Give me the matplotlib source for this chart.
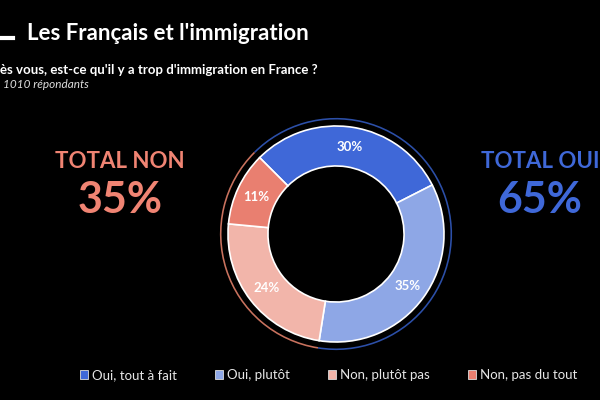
import matplotlib.pyplot as plt
from matplotlib.patches import Patch

# data
categories = ['Oui, tout à fait', 'Oui, plutôt', 'Non, plutôt pas', 'Non, pas du tout']
values = [30, 35, 24, 11]
colors = ['#3f68d8', '#8ea7e6', '#f2b5aa', '#e97f70']
total_labels = ['TOTAL NON', 'TOTAL OUI']
total_values = [35, 65]
total_colors = ['#f08473', '#3f68d8']
ring_colors = ['#2c4fa8', '#c9725e']

plt.rcParams['font.family'] = ['Lato', 'DejaVu Sans']

fig = plt.figure(figsize=(6, 4), dpi=100, facecolor='black')

# title and subtitle
fig.add_artist(plt.Line2D([0, 13 / 600], [1 - 38 / 400, 1 - 38 / 400], color='white', lw=3))
fig.text(27 / 600, 1 - 33 / 400, "Les Français et l'immigration", color='white',
         fontsize=16, fontweight='bold', va='center', ha='left')
fig.text(0, 1 - 70 / 400, "ès vous, est-ce qu'il y a trop d'immigration en France ?",
         color='white', fontsize=9.5, fontweight='bold', va='center', ha='left')
fig.text(3 / 600, 1 - 84 / 400, "1010 répondants", color='#dddddd', fontsize=8.5,
         style='italic', va='center', ha='left')

# donut
cx, cy, rpx = 336, 234, 108
lim = 1.15
size = 2 * lim * rpx
ax = fig.add_axes([(cx - size / 2) / 600, (400 - cy - size / 2) / 400, size / 600, size / 400])
ax.set_facecolor('black')
wedges, texts = ax.pie(values, colors=colors, startangle=135, counterclock=False, radius=1,
                       labels=[f'{v}%' for v in values], labeldistance=0.815,
                       wedgeprops=dict(width=0.37, edgecolor='white', linewidth=1.2),
                       textprops=dict(color='white', fontsize=9.5, fontweight='bold',
                                      ha='center', va='center'))
# thin outer ring: oui / non
ax.pie([total_values[1], total_values[0]], colors=ring_colors, startangle=135,
       counterclock=False, radius=1.075, wedgeprops=dict(width=0.015, edgecolor='none'))
ax.set_xlim(-lim, lim)
ax.set_ylim(-lim, lim)
ax.set_aspect('equal')
ax.axis('off')

# totals
fig.text(120 / 600, 1 - 162 / 400, total_labels[0], color=total_colors[0], fontsize=16,
         fontweight='bold', ha='center', va='center')
fig.text(120 / 600, 1 - 200 / 400, f'{total_values[0]}%', color=total_colors[0], fontsize=31,
         fontweight='bold', ha='center', va='center')
fig.text(540 / 600, 1 - 162 / 400, total_labels[1], color=total_colors[1], fontsize=16,
         fontweight='bold', ha='center', va='center')
fig.text(540 / 600, 1 - 200 / 400, f'{total_values[1]}%', color=total_colors[1], fontsize=31,
         fontweight='bold', ha='center', va='center')

# legend
handles = [Patch(facecolor=c, edgecolor='#dddddd', linewidth=0.6) for c in colors]
leg = fig.legend(handles, categories, loc='center left', bbox_to_anchor=(68 / 600, 1 - 375 / 400),
                 ncol=4, frameon=False, fontsize=9.5, handlelength=0.6, handleheight=0.6,
                 handletextpad=0.3, columnspacing=2.9, labelcolor='#e6e6e6')

fig.savefig('out.png', dpi=100, facecolor='black')
